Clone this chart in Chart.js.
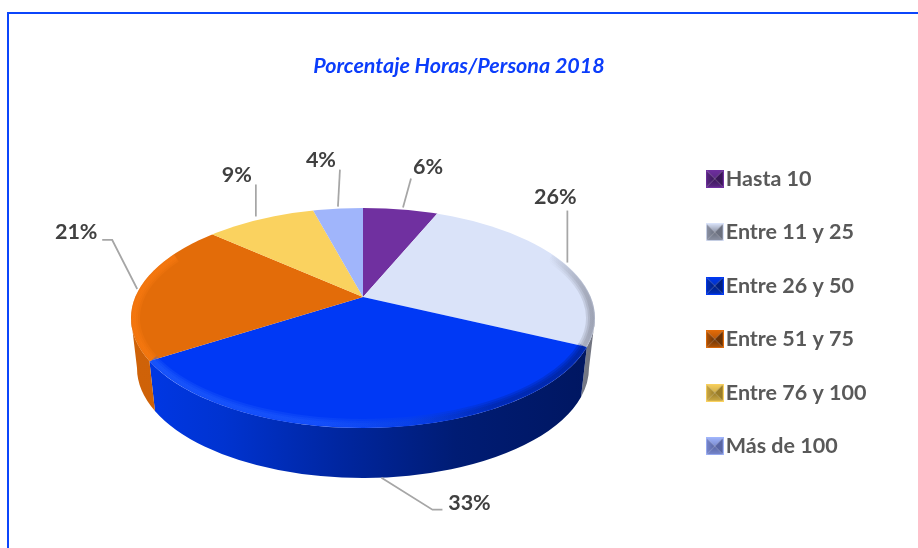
<!DOCTYPE html>
<html lang="es">
<head>
<meta charset="utf-8">
<title>Porcentaje Horas/Persona 2018</title>
<script src="https://cdn.jsdelivr.net/npm/chart.js@4"></script>
<style>
html,body{margin:0;padding:0;background:#fff;}
#wrap{position:relative;width:918px;height:548px;overflow:hidden;}
#frame{position:absolute;left:7px;top:12px;width:920px;height:560px;border-left:2px solid #0b45fb;border-top:2px solid #0b45fb;}
canvas{position:absolute;left:0;top:0;}
</style>
</head>
<body>
<div id="wrap"><div id="frame"></div><canvas id="c" width="918" height="548"></canvas></div>
<script>
const chartTitle = 'Porcentaje Horas/Persona 2018';
const categories = ['Hasta 10','Entre 11 y 25','Entre 26 y 50','Entre 51 y 75','Entre 76 y 100','Más de 100'];
const percentages = [6,26,33,21,9,4];
const sliceColors = ['#7030a0','#dae3f9','#0039f5','#e36c09','#fad25f','#a0b5fb'];
const legendEdge = ['#5c2886','#8f95a8','#0030c0','#b85606','#d0ad48','#7a8ad0'];
const legendDark = ['#3a1658','#6c7180','#001f80','#6a3204','#9a7d28','#5865a4'];

// picture geometry: perspective disc whose slices converge behind the ellipse centre
const top3d = {cx:363, cy:318, rx:232, ry:110};
const bottom3d = {cx:363, cy:368, rx:226, ry:110};
const focus = {x:363, y:297, k:0.45};
const rimFrom = -35*Math.PI/180, rimTo = 215*Math.PI/180;
const rimInset = 3;
const legendPadding = 32;
const legendLeft = 682.5;

// offsets relative to each slice's rim anchor: leader points, then label centre
const leaderOffsets = [
  {pts:[[2.5,-2],[10.5,-31]], text:[27.5,-42]},
  {pts:[[4,0],[4,-52]], text:[-8,-65]},
  {pts:[[0,0],[51,32],[61,32]], text:[88,25]},
  {pts:[[-2,0],[-27,-49],[-37,-49]], text:[-63,-57]},
  {pts:[[-4,-3],[-4,-35]], text:[-23,-44]},
  {pts:[[0,-2],[2,-39]], text:[-17,-49]}
];

function rimParam(theta){
  const dx=Math.cos(theta), dy=focus.k*Math.sin(theta), oy=focus.y-top3d.cy;
  const a=dx*dx/(top3d.rx*top3d.rx)+dy*dy/(top3d.ry*top3d.ry);
  const b=2*oy*dy/(top3d.ry*top3d.ry);
  const c=oy*oy/(top3d.ry*top3d.ry)-1;
  const s=(-b+Math.sqrt(b*b-4*a*c))/(2*a);
  return Math.atan2((oy+dy*s)/top3d.ry,(dx*s)/top3d.rx);
}
function arcRange(arc){
  let p1=rimParam(arc.startAngle), p2=rimParam(arc.endAngle);
  if(p1<-Math.PI/2-1e-6) p1+=2*Math.PI;
  while(p2<p1) p2+=2*Math.PI;
  return [p1,p2];
}
function hGrad(ctx,stops){
  const g=ctx.createLinearGradient(top3d.cx-top3d.rx,0,top3d.cx+top3d.rx,0);
  stops.forEach(s=>g.addColorStop(s[0],s[1]));
  return g;
}
const wallStops = {
  1:[[0,'#8a8d9a'],[0.9,'#8a8d9a'],[1,'#6f727e']],
  2:[[0,'#0038e8'],[0.2,'#0033d0'],[0.45,'#0026a0'],[0.7,'#001c74'],[1,'#001660']],
  3:[[0,'#cf6208'],[1,'#c85e08']]
};
const rimStops = {
  1:[[0,'rgba(122,125,138,0)'],[0.9,'rgba(122,125,138,0)'],[0.985,'#7a7d8a'],[1,'#6c6f7b']],
  2:[[0,'#2a68ff'],[0.4,'#2460ff'],[0.6,'#1148e0'],[0.78,'#001f88'],[1,'#00186c']],
  3:[[0,'#ff7d12'],[1,'#ff7d12']]
};
function makeIcon(i){
  const s=18, c=document.createElement('canvas'); c.width=s; c.height=s;
  const x=c.getContext('2d'), m=s/2;
  const tri=(ax,ay,bx,by,from,to)=>{
    const g=x.createLinearGradient((ax+bx)/2,(ay+by)/2,m,m);
    g.addColorStop(0,from); g.addColorStop(1,to);
    x.fillStyle=g; x.beginPath(); x.moveTo(ax,ay); x.lineTo(bx,by); x.lineTo(m,m); x.closePath(); x.fill();
  };
  const b=sliceColors[i], d=legendDark[i], e=legendEdge[i];
  tri(0,0,s,0,b,e);
  tri(0,0,0,s,e,d);
  tri(0,s,s,s,e,d);
  tri(s,0,s,s,d,d);
  x.strokeStyle=b; x.lineWidth=1; x.strokeRect(.5,.5,s-1,s-1);
  return c;
}

const pie3d = {
  id:'pie3d',
  afterLayout(chart){
    const lg=chart.legend, w=lg.right-lg.left;
    lg.left=legendLeft; lg.right=legendLeft+w;
    const shift=312.5-(lg.top+lg.bottom)/2;
    lg.top+=shift; lg.bottom+=shift;
  },
  beforeDatasetsDraw(chart){
    const ctx=chart.ctx, arcs=chart.getDatasetMeta(0).data;
    ctx.save();
    arcs.forEach((arc,i)=>{
      if(!wallStops[i]) return;
      const r=arcRange(arc), lo=Math.max(r[0],0), hi=Math.min(r[1],Math.PI);
      if(lo>=hi) return;
      ctx.beginPath();
      ctx.ellipse(top3d.cx,top3d.cy,top3d.rx,top3d.ry,0,lo,hi,false);
      ctx.ellipse(bottom3d.cx,bottom3d.cy,bottom3d.rx,bottom3d.ry,0,hi,lo,true);
      ctx.closePath();
      ctx.fillStyle=hGrad(ctx,wallStops[i]);
      ctx.fill();
    });
    ctx.restore();
    ctx.save();
    ctx.beginPath();
    ctx.ellipse(top3d.cx,top3d.cy,top3d.rx,top3d.ry,0,0,2*Math.PI);
    ctx.clip();
    const a0=arcs[0];
    ctx.translate(focus.x,focus.y);
    ctx.scale(1,focus.k);
    ctx.translate(-a0.x,-a0.y);
  },
  afterDatasetsDraw(chart){
    const ctx=chart.ctx, arcs=chart.getDatasetMeta(0).data;
    ctx.restore();
    ctx.save();
    ctx.beginPath();
    ctx.ellipse(top3d.cx,top3d.cy,top3d.rx,top3d.ry,0,0,2*Math.PI);
    ctx.clip();
    arcs.forEach((arc,i)=>{
      if(!rimStops[i]) return;
      const r=arcRange(arc), lo=Math.max(r[0],rimFrom), hi=Math.min(r[1],rimTo);
      if(lo>=hi) return;
      ctx.strokeStyle=hGrad(ctx,rimStops[i]);
      ctx.lineCap='butt';
      [12,8,4].forEach(w=>{
        ctx.globalAlpha=0.24;
        ctx.lineWidth=w;
        ctx.beginPath();
        ctx.ellipse(top3d.cx,top3d.cy,top3d.rx-rimInset,top3d.ry-rimInset,0,lo,hi,false);
        ctx.stroke();
      });
    });
    ctx.restore();
  },
  afterDraw(chart){
    const ctx=chart.ctx, arcs=chart.getDatasetMeta(0).data;
    ctx.save();
    arcs.forEach((arc,i)=>{
      const mid=(arc.startAngle+arc.endAngle)/2, p=rimParam(mid);
      const front=p>0.35&&p<Math.PI-0.35;
      const ax=top3d.cx+top3d.rx*Math.cos(p), ay=(front?bottom3d.cy:top3d.cy)+top3d.ry*Math.sin(p);
      const L=leaderOffsets[i];
      ctx.strokeStyle='#a6a6a6'; ctx.lineWidth=1.75;
      ctx.beginPath();
      L.pts.forEach((q,j)=>{ j?ctx.lineTo(ax+q[0],ay+q[1]):ctx.moveTo(ax+q[0],ay+q[1]); });
      ctx.stroke();
      ctx.fillStyle='#404040';
      ctx.font='bold 21.5px Lato';
      ctx.textAlign='center'; ctx.textBaseline='middle';
      ctx.fillText(percentages[i]+'%',ax+L.text[0],ay+L.text[1]);
    });
    ctx.restore();
  }
};

new Chart(document.getElementById('c'),{
  type:'pie',
  data:{labels:categories,datasets:[{data:percentages,backgroundColor:sliceColors,borderWidth:0,clip:false}]},
  plugins:[pie3d],
  options:{
    responsive:false,
    animation:false,
    radius:300,
    layout:{padding:0},
    plugins:{
      tooltip:{enabled:false},
      title:{display:true,text:chartTitle,color:'#0b3dfb',
        font:{family:'Lato',size:21.5,weight:'bold',style:'italic',lineHeight:1.2},
        padding:{top:53,bottom:0}},
      legend:{
        position:'right',
        labels:{
          usePointStyle:true,boxWidth:0.5,boxHeight:18,padding:legendPadding,
          color:'#595959',
          font:{family:'Lato',size:21.5,weight:'bold',lineHeight:1.2},
          generateLabels(){
            return categories.map((t,i)=>({text:t,pointStyle:makeIcon(i),index:i,hidden:false,
              fillStyle:sliceColors[i],strokeStyle:sliceColors[i],lineWidth:0,fontColor:'#595959'}));
          }
        }
      }
    }
  }
});
</script>
</body>
</html>
